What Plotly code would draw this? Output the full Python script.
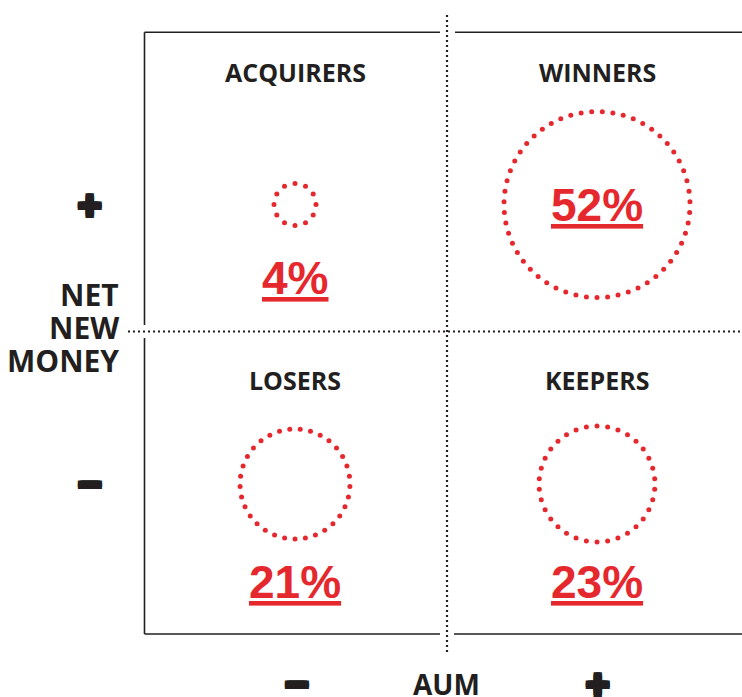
import numpy as np
import plotly.graph_objects as go

# ---- data ----
quadrants = ["ACQUIRERS", "WINNERS", "LOSERS", "KEEPERS"]
shares = [4, 52, 21, 23]                 # percent of firms
aum_side = [-1, 1, -1, 1]                # AUM change sign
nnm_side = [1, 1, -1, -1]                # net new money sign
pct_labels = [f"{s}%" for s in shares]
y_axis_title = ["NET", "NEW", "MONEY"]
x_axis_title = "AUM"

# ---- layout constants (pixel space) ----
W, H = 742, 697
RED = "#e5282d"
INK = "#231f20"
col_x = {-1: 295, 1: 597}
row_y = {1: 204.5, -1: 484}
title_y = {1: 71.5, -1: 379.5}
label_y = {1: 277.5, -1: 582}
DOT_STEP = 10.6

def radius(p):
    return 9.4 * p ** 0.58

fig = go.Figure()

# dotted circles built from the share values
for q, s, ax, ny in zip(quadrants, shares, aum_side, nnm_side):
    r = radius(s)
    cx, cy = col_x[ax], row_y[ny]
    n = int(round(2 * np.pi * r / DOT_STEP))
    t = np.linspace(0, 2 * np.pi, n, endpoint=False) + np.pi / 2
    fig.add_trace(go.Scatter(
        x=cx + r * np.cos(t), y=cy + r * np.sin(t), mode="markers",
        marker=dict(size=5, color=RED, line=dict(width=0)),
        hoverinfo="skip", showlegend=False, name=q))

# percentage labels (inside the big circle, below the others)
for q, s, lab, ax, ny in zip(quadrants, shares, pct_labels, aum_side, nnm_side):
    r = radius(s)
    inside = r > 80
    y = row_y[ny] if inside else label_y[ny]
    fig.add_annotation(x=col_x[ax], y=y, text=f"<b><u>{lab}</u></b>",
                       showarrow=False, xanchor="center", yanchor="middle",
                       font=dict(family="Liberation Sans, Arial, sans-serif", size=46, color=RED))
    fig.add_annotation(x=col_x[ax], y=title_y[ny], text=f"<b>{q}</b>",
                       showarrow=False, xanchor="center", yanchor="middle",
                       font=dict(family="Open Sans, sans-serif", size=25, color=INK))

# axis titles
for i, w in enumerate(y_axis_title):
    fig.add_annotation(x=121, y=294 + i * 33, text=f"<b>{w}</b>", showarrow=False,
                       xanchor="right", yanchor="middle",
                       font=dict(family="Open Sans, sans-serif", size=30, color=INK))
fig.add_annotation(x=446, y=684, text=f"<b>{x_axis_title}</b>", showarrow=False,
                   xanchor="center", yanchor="middle",
                   font=dict(family="Open Sans, sans-serif", size=28, color=INK))

# plus / minus signs
thick = ",".join(f"{dx}px {dy}px 0 {INK}" for dx in (-2, 0, 2) for dy in (-2, 0, 2) if dx or dy)
signs = [("+", 89, 205), ("\u2212", 89.5, 484), ("\u2212", 296, 683.5), ("+", 597, 683.5)]
for ch, x, y in signs:
    fig.add_annotation(x=x, y=y, text=f"<b>{ch}</b>", showarrow=False,
                       xanchor="center", yanchor="middle",
                       font=dict(family="Liberation Sans, Arial, sans-serif", size=40,
                                 color=INK, shadow=thick))

# frame lines (solid) with gaps around the dotted axes
solid = dict(color=INK, width=1.6)
segs = [(144.5, 32.3, 440, 32.3), (455, 32.3, W, 32.3),
        (144.5, 634, 440, 634), (454, 634, W, 634),
        (144.5, 32.3, 144.5, 325), (144.5, 338, 144.5, 634)]
for x0, y0, x1, y1 in segs:
    fig.add_shape(type="line", x0=x0, y0=y0, x1=x1, y1=y1, xref="x", yref="y", line=solid)

dotted = dict(color=INK, width=2.2, dash="2px,3px")
fig.add_shape(type="line", x0=447, y0=15, x1=447, y1=652, xref="x", yref="y", line=dotted)
fig.add_shape(type="line", x0=128, y0=331.5, x1=W, y1=331.5, xref="x", yref="y", line=dotted)

fig.update_xaxes(range=[0, W], visible=False, fixedrange=True)
fig.update_yaxes(range=[H, 0], visible=False, fixedrange=True)
fig.update_layout(width=W, height=H, margin=dict(l=0, r=0, t=0, b=0),
                  paper_bgcolor="white", plot_bgcolor="white", showlegend=False)

fig.write_html("out.html", config={"displayModeBar": False},
               post_script="document.body.style.margin='0';document.body.style.overflow='hidden';")
